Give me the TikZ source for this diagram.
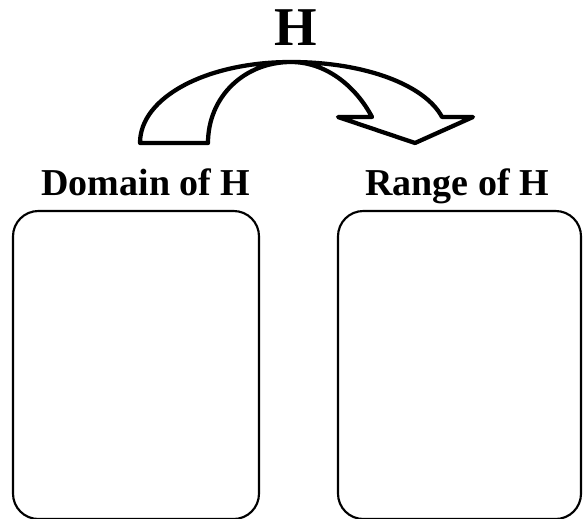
\documentclass[tikz,border=0pt]{standalone}
\usepackage{fontspec}
\setmainfont{Liberation Serif}
\begin{document}
\begin{tikzpicture}[x=0.75pt,y=-0.75pt,
  setbox/.style={draw=black,line width=1.6pt,rounded corners=19pt},
  arrowshape/.style={draw=black,line width=3.2pt,line join=round,fill=white},
  lbl/.style={font=\bfseries\fontsize{28.5}{32}\selectfont,inner sep=0pt,anchor=base}]
\useasboundingbox (0,0) rectangle (584,518);
% boxes
\draw[setbox] (13,211) rectangle (259,519);
\draw[setbox] (338,211) rectangle (581,519);
\coordinate (dombox) at (136,364);
\coordinate (ranbox) at (459,364);
% labels
\node[lbl] (dom) at (146,195) {Domain of H};
\node[lbl] (ran) at (457,195) {Range of H};
\node[font=\bfseries\fontsize{41}{44}\selectfont,inner sep=0pt,anchor=base] (h) at (296,45) {H};
% curved arrow
\draw[arrowshape]
  (140,143) .. controls (140,97) and (207,62) .. (291,62)
  .. controls (365,62) and (425,85) .. (442,117)
  -- (473,117) -- (415,143) -- (338,117) -- (372,117)
  .. controls (355,85) and (325,62) .. (291,62)
  .. controls (244,62) and (208,97) .. (208,143)
  -- cycle;
\end{tikzpicture}
\end{document}
